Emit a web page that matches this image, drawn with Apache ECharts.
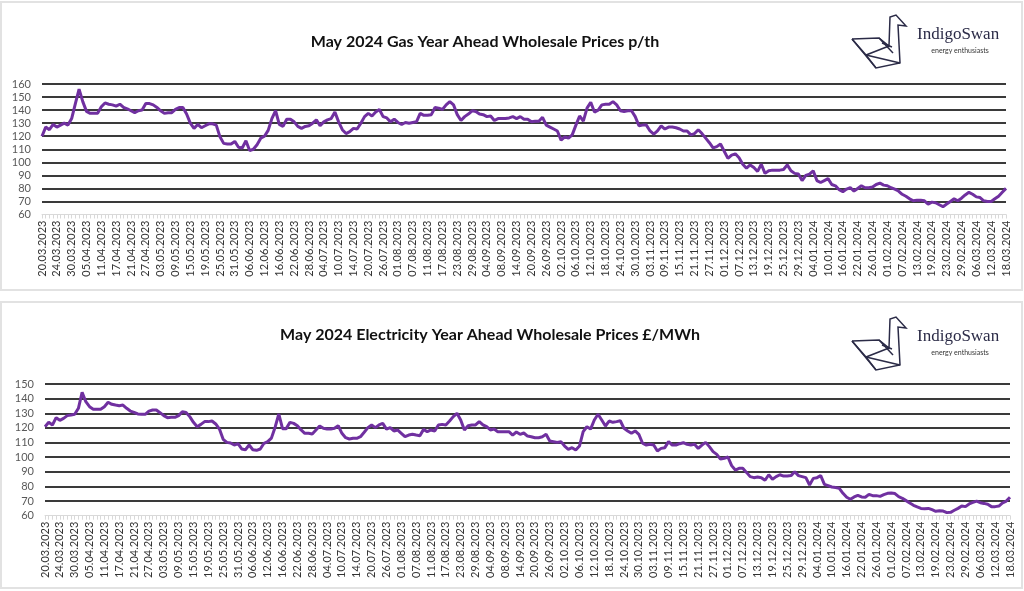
<!DOCTYPE html>
<html>
<head>
<meta charset="utf-8">
<script src="https://cdn.jsdelivr.net/npm/echarts@6/dist/echarts.min.js"></script>
<style>
html,body{margin:0;padding:0;background:#fff;}
#c{width:1024px;height:591px;}
</style>
</head>
<body>
<div id="c"></div>
<script>
// ---- DATA ----
const startDate = '2023-03-20';
const pointCount = 261; // weekdays 20.03.2023 .. 18.03.2024

const gasTitle = 'May 2024 Gas Year Ahead Wholesale Prices p/th';
const elecTitle = 'May 2024 Electricity Year Ahead Wholesale Prices £/MWh';

const gasValues = [
  120,127,125,129,127,128.5,130,128.5,133.5,145,
  156,146.5,139,137.5,137.5,137.5,142.5,145.5,144.5,144,
  143,144.5,142,141,139.5,138,139.5,140,145,145,
  144,142,139.5,137.5,138,138,140.5,142,142,137,
  130,126,129,126.5,128,129.5,129.5,128.5,119.5,114.5,
  114,114,116,111.5,111,116.5,109,110,113.5,118.5,
  120,124.5,133.5,139.5,129,127.5,133,133,131,127.5,
  126,127.5,128,130,132.5,128,131,132.5,133.5,138.5,
  131,125,122,123.5,126,125.5,130,135,137.5,135.5,
  138.5,140.5,135,134,131,133,130.5,129,130.5,130,
  130.5,131,137.5,136,136,136.5,142,141.5,140.5,144,
  146.5,144,136.5,132,135,137,139.5,139,137,136.5,
  135,135.5,132,133.5,133.5,133.5,134,135,133.5,135,
  133,133,131,131.5,131.5,134.5,128.5,127,125.5,124,
  117,119.5,118.5,121,128.5,135.5,131.5,141.5,146,138.5,
  140,144,144.5,144.5,146.5,144,139.5,139,139.5,139.5,
  135,128,128.5,128.5,124,121.5,124,128,125.5,127,
  127,126.5,125.5,124,124,121,122,125,122,118.5,
  115,111,112,114,108.5,103,105.5,106.5,103.5,98.5,
  95.5,98,96,93,98.5,91.5,93.5,94,94,94,
  94.5,98,93.5,91.5,91,86,90,91,93.5,86,
  84.5,86,87.5,83,82,79,77.5,79.5,80.5,78,
  80,82,80.5,80.5,81,83,84,82.5,82,80.5,
  79.5,78,75.5,74,72,70.5,71,71,70.5,68,
  69.5,69,67.5,66,68,70,72,70.5,72.5,75,
  77,75.5,73.5,73,70.5,70,70,72,74,77,
  80
];

const elecValues = [
  120.8,123.8,122,127,125.2,126.5,128.4,128.8,129.3,133.4,
  144.3,137.9,134.5,132.7,132.7,132.7,134.5,137.5,136.1,135.6,
  135.2,135.6,133.4,131.5,130.6,129.5,129.3,129.3,131.5,132.2,
  132.2,130.4,128.4,127,127.2,127.2,128.4,131.1,130.6,127.7,
  123.8,120.8,122.4,124.3,124.3,124.7,122.7,119.2,112.2,110.1,
  109.7,108.3,109.2,105.6,105.1,108.3,105.1,104.7,105.6,109.5,
  110.6,113,120.5,129.5,119.5,119.5,123.8,123.1,121.5,118.6,
  116.3,116.3,115.8,118.6,121.3,119.7,119.2,119.2,119.7,121.5,
  116.3,113.3,112.4,112.9,112.9,114,117,120.2,122,120.2,
  122,123.1,119.2,120.2,117.9,118.6,116.3,114,115.1,115.6,
  115.1,114.7,119,117.4,118.6,117.9,122,122.4,122,124.7,
  127.7,130,125.4,118.6,121.5,122,122,124.3,122,120.8,
  118.6,119.2,117.4,117.4,117.4,117.4,115.1,117.2,115.6,116.5,
  114.4,114,113.3,113.3,114,115.6,111,110.6,110.1,110.6,
  107.6,105.4,106.5,104.9,107.6,117.4,120.8,119.2,125.4,129.3,
  125.4,121.3,124.7,123.8,124.3,124.9,119.7,117.9,116.3,117.9,
  115.6,109.5,108.3,108.8,108.3,104.2,106,106.5,110.6,108.3,
  108.3,109.2,109.9,108.8,108.3,108.8,106,108.3,110.1,107.2,
  103.8,101.9,98.7,99.2,100.1,94.2,91.2,92.4,92.4,89.6,
  86.7,86,86.4,86,84.2,88,84.9,86.7,88,87.1,
  87.1,87.4,90.1,87.4,86.7,86,81,85.5,86,87.4,
  81.4,80.5,79.6,79.2,78.7,75.3,72.6,71.2,72.8,73.9,
  72.8,72.6,74.6,73.7,73.7,73.2,74.4,75.3,75.5,75.1,
  73,71.9,70.3,68.7,67.1,66,65,64.8,65,64.1,
  63,63.4,63.2,62.1,62.3,63.7,65,66.6,66.2,68,
  69.1,70,68.9,68.4,67.8,66.2,66.2,66.6,68.7,70,
  72.6
];

const gasAxis = {min: 60, max: 160, interval: 10};
const elecAxis = {min: 60, max: 150, interval: 10};

// ---- categories: consecutive weekdays ----
function buildDates(start, n) {
  const out = [];
  const d = new Date(start + 'T00:00:00Z');
  while (out.length < n) {
    const wd = d.getUTCDay();
    if (wd !== 0 && wd !== 6) {
      const dd = String(d.getUTCDate()).padStart(2, '0');
      const mm = String(d.getUTCMonth() + 1).padStart(2, '0');
      out.push(dd + '.' + mm + '.' + d.getUTCFullYear());
    }
    d.setUTCDate(d.getUTCDate() + 1);
  }
  return out;
}
const categories = buildDates(startDate, pointCount);

// ---- CHART ----
const chart = echarts.init(document.getElementById('c'), null, {renderer: 'canvas'});
const FONT = 'Lato';
const LINE = '#7030a0';
const GRID = '#3a3a3a';

function splitColors(n) {
  const arr = ['rgba(0,0,0,0)'];
  for (let i = 1; i < n; i++) arr.push(GRID);
  return arr;
}

function xAxisCfg(gridIndex) {
  return {
    type: 'category', gridIndex: gridIndex, data: categories, boundaryGap: false,
    axisLine: {show: true, lineStyle: {color: '#d9d9d9', width: 1}},
    axisTick: {show: true, interval: 0, length: 4, lineStyle: {color: '#d9d9d9'}},
    axisLabel: {rotate: 90, interval: 3, fontFamily: FONT, fontSize: 11, color: '#333', margin: 6}
  };
}
function yAxisCfg(gridIndex, ax) {
  const n = (ax.max - ax.min) / ax.interval + 1;
  return {
    type: 'value', gridIndex: gridIndex, min: ax.min, max: ax.max, interval: ax.interval,
    axisLine: {show: false}, axisTick: {show: false},
    axisLabel: {fontFamily: FONT, fontSize: 11, color: '#595959', margin: 11},
    splitLine: {show: true, lineStyle: {color: splitColors(n), width: 2}}
  };
}

function swan(dx, dy) {
  const P = (pts) => pts.map(p => [p[0] + dx, p[1] + dy]);
  const st = {stroke: '#2b2b47', lineWidth: 1.5, fill: null};
  return [
    {type: 'polyline', shape: {points: P([[852,39],[876,68],[900,63],[898,25],[906,26],[896,15],[890,17],[889,46],[879,38],[852,39]])}, style: st, silent: true},
    {type: 'polyline', shape: {points: P([[852,39],[866,55],[889,46]])}, style: st, silent: true},
    {type: 'polyline', shape: {points: P([[866,55],[876,68]])}, style: st, silent: true},
    {type: 'polyline', shape: {points: P([[866,55],[900,63]])}, style: st, silent: true},
    {type: 'polyline', shape: {points: P([[879,38],[893,53]])}, style: st, silent: true},
    {type: 'polyline', shape: {points: P([[882,43],[892,47]])}, style: st, silent: true},
    {type: 'text', x: 917 + dx, y: 35 + dy, style: {text: 'IndigoSwan', font: '17px "Liberation Serif"', fill: '#2b2b47', textVerticalAlign: 'middle'}, silent: true},
    {type: 'text', x: 960 + dx, y: 51 + dy, style: {text: 'energy enthusiasts', font: '7px ' + FONT, fill: '#333', textAlign: 'center', textVerticalAlign: 'middle'}, silent: true}
  ];
}

const graphics = [
  {type: 'rect', shape: {x: 1, y: 2, width: 1021, height: 288}, style: {fill: null, stroke: '#e2e2e2', lineWidth: 2}, z: -10, silent: true},
  {type: 'rect', shape: {x: 1, y: 302, width: 1021, height: 286}, style: {fill: null, stroke: '#e2e2e2', lineWidth: 2}, z: -10, silent: true},
  {type: 'text', x: 485, y: 42, style: {text: gasTitle, font: 'bold 16px ' + FONT, fill: '#111', textAlign: 'center', textVerticalAlign: 'middle'}, silent: true},
  {type: 'text', x: 490, y: 335, style: {text: elecTitle, font: 'bold 16px ' + FONT, fill: '#111', textAlign: 'center', textVerticalAlign: 'middle'}, silent: true}
].concat(swan(0, 0)).concat(swan(0, 302));

const option = {
  backgroundColor: '#ffffff',
  animation: false,
  grid: [
    {left: 42, right: 18, top: 84, height: 130.5},
    {left: 45, right: 14, top: 384, height: 131.7}
  ],
  xAxis: [xAxisCfg(0), xAxisCfg(1)],
  yAxis: [yAxisCfg(0, gasAxis), yAxisCfg(1, elecAxis)],
  series: [
    {type: 'line', xAxisIndex: 0, yAxisIndex: 0, data: gasValues, showSymbol: false, symbol: 'none',
     lineStyle: {color: LINE, width: 3}, z: 5},
    {type: 'line', xAxisIndex: 1, yAxisIndex: 1, data: elecValues, showSymbol: false, symbol: 'none',
     lineStyle: {color: LINE, width: 3}, z: 5}
  ],
  graphic: graphics
};
chart.setOption(option);
</script>
</body>
</html>
